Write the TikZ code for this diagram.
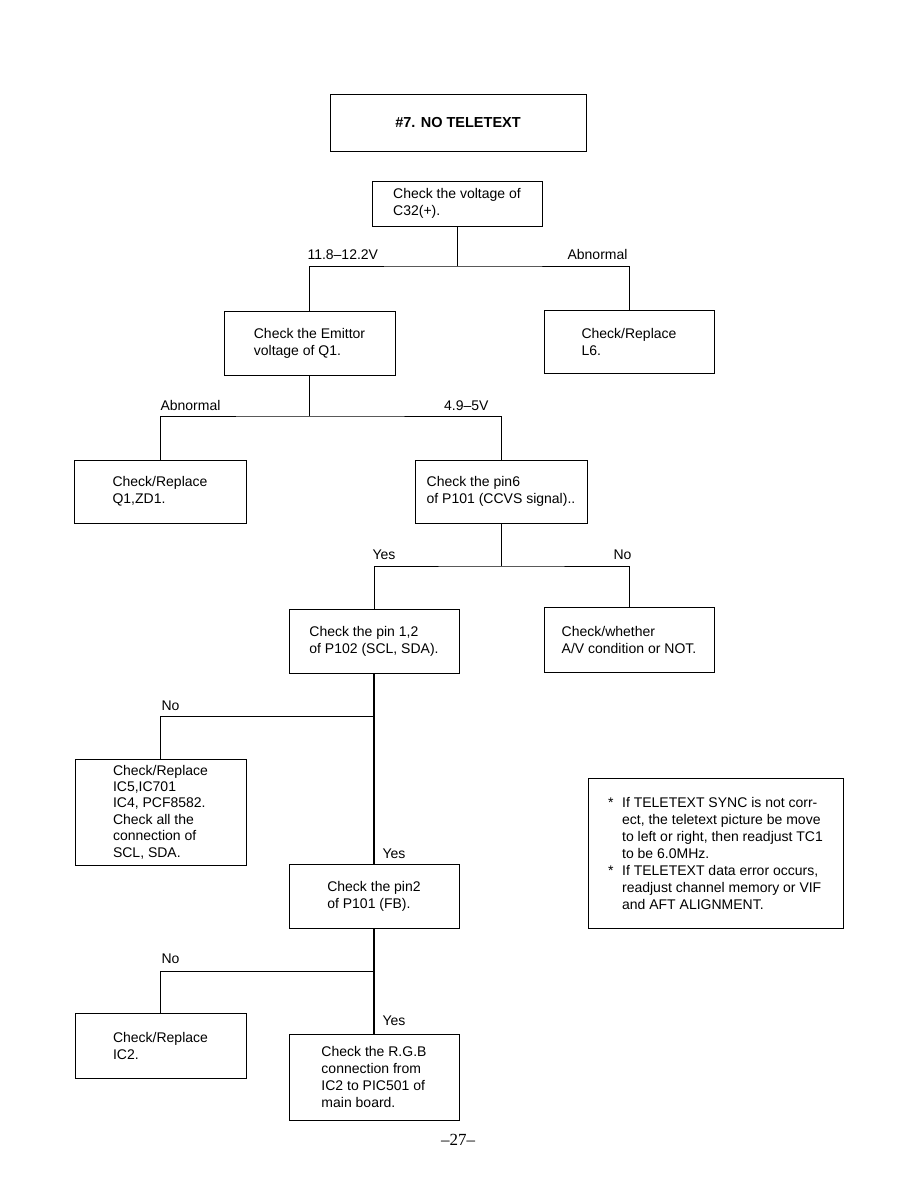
\documentclass[tikz,border=0pt]{standalone}
\usepackage{fontspec}
\setmainfont{Liberation Sans}
\newfontfamily\pagefont{Liberation Serif}
\begin{document}
\begin{tikzpicture}[
    x=1pt, y=1pt,
    line width=1pt,
    stepbox/.style={draw, align=left, inner sep=0pt,
                    font=\fontsize{14}{17}\selectfont},
    titlebox/.style={draw, align=center, inner sep=0pt,
                     font=\fontsize{14.5}{17}\selectfont\bfseries},
    cond/.style={inner sep=0pt, font=\fontsize{14}{17}\selectfont},
    trunk/.style={line width=1.8pt}
  ]
    \useasboundingbox (0,0) rectangle (918,-1188);

    % Title
    \node[titlebox, minimum width=256, minimum height=56] (title) at (458,-123) {\#7. NO TELETEXT};

    % Level 1
    \node[stepbox, minimum width=170, minimum height=45] (c32) at (457,-203.5)
      {Check the voltage of\\C32(+).};
    \node[stepbox, minimum width=171, minimum height=64] (emit) at (309.5,-343)
      {Check the Emittor\\voltage of Q1.};
    \node[stepbox, minimum width=170, minimum height=63] (l6) at (629,-341.5)
      {Check/Replace\\L6.};

    % Level 2
    \node[stepbox, minimum width=172, minimum height=63] (q1) at (160,-491.5)
      {Check/Replace\\Q1,ZD1.};
    \node[stepbox, minimum width=172, minimum height=63] (pin6) at (501,-491.5)
      {Check the pin6\\of P101 (CCVS signal)..};

    % Level 3
    \node[stepbox, minimum width=170, minimum height=64] (p102) at (374,-641)
      {Check the pin 1,2\\of P102 (SCL, SDA).};
    \node[stepbox, minimum width=170, minimum height=65] (av) at (629,-639.5)
      {Check/whether\\A/V condition or NOT.};

    % Level 4
    \node[stepbox, minimum width=171, minimum height=106,
          font=\fontsize{14}{16.4}\selectfont] (ic5) at (160.5,-812)
      {Check/Replace\\IC5,IC701\\IC4, PCF8582.\\Check all the\\connection of\\SCL, SDA.};
    \node[stepbox, minimum width=170, minimum height=64] (fb) at (374,-896)
      {Check the pin2\\of P101 (FB).};

    % Level 5
    \node[stepbox, minimum width=171, minimum height=65] (ic2) at (160.5,-1045.5)
      {Check/Replace\\IC2.};
    \node[stepbox, minimum width=170, minimum height=86] (rgb) at (374,-1077)
      {Check the R.G.B\\connection from\\IC2 to PIC501 of\\main board.};

    % Note
    \node[stepbox, minimum width=255, minimum height=150] (note) at (715.5,-853)
      {\makebox[14pt][l]{*}If TELETEXT SYNC is not corr-\\
       \hspace*{14pt}ect, the teletext picture be move\\
       \hspace*{14pt}to left or right, then readjust TC1\\
       \hspace*{14pt}to be 6.0MHz.\\
       \makebox[14pt][l]{*}If TELETEXT data error occurs,\\
       \hspace*{14pt}readjust channel memory or VIF\\
       \hspace*{14pt}and AFT ALIGNMENT.};

    % Connectors
    \coordinate (j1) at (457,-266);
    \coordinate (j2) at (309.5,-416);
    \coordinate (j3) at (501,-566);
    \coordinate (j4) at (374,-716);
    \coordinate (j5) at (374,-971);

    \draw (c32.south) -- (j1);
    \draw (emit.north) |- (j1) -| (l6.north);
    \draw (emit.south) -- (j2);
    \draw (q1.north) |- (j2) -| (pin6.north);
    \draw (pin6.south) -- (j3);
    \draw (p102.north) |- (j3) -| (av.north);
    \draw[trunk] (p102.south) -- (fb.north);
    \draw (j4) -| (ic5.north);
    \draw[trunk] (fb.south) -- (rgb.north);
    \draw (j5) -| (ic2.north);

    % Branch labels
    \node[cond, anchor=base west] (v12) at (307,-259) {11.8–12.2V};
    \node[cond, anchor=base east] (ab1) at (628,-259) {Abnormal};
    \node[cond, anchor=base west] (ab2) at (160,-410) {Abnormal};
    \node[cond, anchor=base east] (v5) at (489,-410) {4.9–5V};
    \node[cond, anchor=base west] (yes1) at (372,-559) {Yes};
    \node[cond, anchor=base west] (no1) at (613,-559) {No};
    \node[cond, anchor=base west] (no2) at (161,-710) {No};
    \node[cond, anchor=base west] (yes2) at (382,-858) {Yes};
    \node[cond, anchor=base west] (no3) at (161,-963) {No};
    \node[cond, anchor=base west] (yes3) at (382,-1025) {Yes};

    % Page number
    \node[font=\pagefont\fontsize{17}{20}\selectfont] (pageno) at (458,-1140) {–27–};
\end{tikzpicture}
\end{document}
